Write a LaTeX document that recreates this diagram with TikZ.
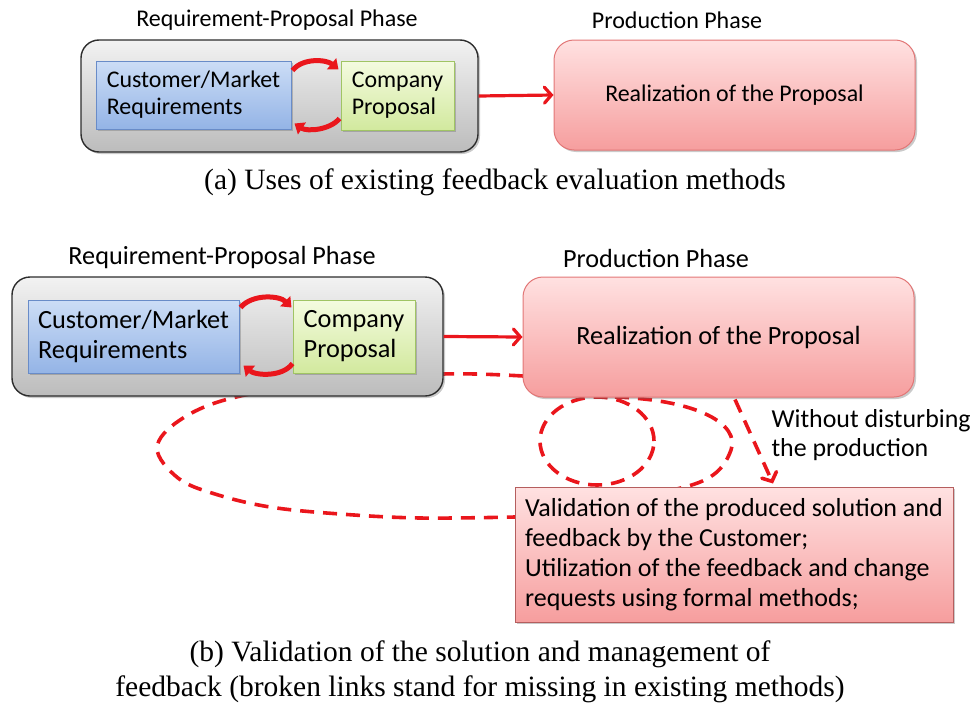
\documentclass[tikz,border=0pt]{standalone}
\usepackage{fontspec}
\setmainfont{Liberation Serif}
\newfontfamily\calfont{Carlito}
\newfontfamily\capfont{Liberation Serif}
\usetikzlibrary{arrows.meta,shadows,calc}
\definecolor{redA}{RGB}{234,22,28}
\definecolor{greyTop}{RGB}{242,242,242}
\definecolor{greyBot}{RGB}{188,188,188}
\definecolor{greyLine}{RGB}{45,45,45}
\definecolor{blueTop}{RGB}{204,221,246}
\definecolor{blueBot}{RGB}{148,180,230}
\definecolor{blueLine}{RGB}{105,140,200}
\definecolor{greenTop}{RGB}{244,251,224}
\definecolor{greenBot}{RGB}{210,233,158}
\definecolor{greenLine}{RGB}{160,196,100}
\definecolor{pinkTop}{RGB}{255,225,225}
\definecolor{pinkBot}{RGB}{246,158,158}
\definecolor{pinkLine}{RGB}{226,118,118}
\tikzset{
  shad/.style={drop shadow={shadow xshift=2pt,shadow yshift=-2pt,opacity=0.35,fill=black!60}},
  phasebox/.style={rounded corners=18pt, draw=greyLine, line width=1.4pt, top color=greyTop, bottom color=greyBot, shad},
  bluebox/.style={draw=blueLine, line width=1pt, top color=blueTop, bottom color=blueBot, shad, align=left, inner sep=0pt},
  greenbox/.style={draw=greenLine, line width=1pt, top color=greenTop, bottom color=greenBot, shad, align=left, inner sep=0pt},
  prodbox/.style={rounded corners=20pt, draw=pinkLine, line width=1pt, top color=pinkTop, bottom color=pinkBot, shad},
  valbox/.style={draw=pinkLine!80!black, line width=1pt, top color=pinkTop, bottom color=pinkBot, shad},
  flowarrow/.style={draw=redA, line width=3.2pt, -{Straight Barb[length=7pt,width=16pt,line cap=round]}},
  cycarrow/.style={draw=redA, line width=5pt, -{Triangle[length=9pt,width=14pt]}},
  fbline/.style={draw=redA, line width=3.6pt, dash pattern=on 14pt off 9pt},
  titleA/.style={font=\calfont\fontsize{24}{28}\selectfont},
  titleB/.style={font=\calfont\fontsize{26.2}{30}\selectfont},
  txtA/.style={font=\calfont\fontsize{23.9}{27}\selectfont},
  txtB/.style={font=\calfont\fontsize{26.3}{30}\selectfont},
  captxt/.style={font=\capfont\fontsize{29.5}{35}\selectfont, align=center},
}
\begin{document}
\begin{tikzpicture}[x=1pt,y=-1pt]
\useasboundingbox (0,0) rectangle (971,712);
% ---------------- (a)
\node[titleA] (tA1) at (277,20) {Requirement-Proposal Phase};
\node[titleA] (tA2) at (677,20) {Production Phase};
\node[phasebox, minimum width=397pt, minimum height=112pt] (greyA) at (279.5,96) {};
\node[bluebox, txtA, minimum width=195pt, minimum height=68pt] (blueA) at (193.5,95) {Customer/Market\\Requirements};
\node[greenbox, txtA, minimum width=113pt, minimum height=69pt] (greenA) at (397.5,95.5) {Company\\Proposal};
\node[prodbox, txtA, minimum width=361pt, minimum height=110pt] (pinkA) at (734.5,95) {Realization of the Proposal};
\draw[flowarrow] (greyA.east) -- (pinkA.west);
\draw[cycarrow] ($(blueA.north east)+(1,10)$) .. controls +(10,-13) and +(-12,-10) .. ($(greenA.north west)+(-2,9)$);
\draw[cycarrow] ($(greenA.south west)+(-1,-12)$) .. controls +(-10,12) and +(12,8) .. ($(blueA.south east)+(3,-6)$);
\node[captxt] (capA) at (495,182) {(a) Uses of existing feedback evaluation methods};
% ---------------- (b)
\node[titleB] (tB1) at (222,258) {Requirement-Proposal Phase};
\node[titleB] (tB2) at (656,258) {Production Phase};
% feedback paths (behind boxes)
\draw[fbline] plot[smooth, tension=0.6] coordinates {(523,376) (443,374) (330,382) (232,398) (180,420) (157,448) (178,478) (215,494) (270,507) (340,514) (420,518) (515,517)};
\draw[fbline] (597,441) ellipse (57pt and 44pt);
\draw[fbline] (615,397) .. controls (700,400) and (740,425) .. (731,450) .. controls (722,475) and (705,483) .. (672,490);
\node[phasebox, minimum width=431pt, minimum height=119pt] (greyB) at (227.5,336.5) {};
\node[bluebox, txtB, minimum width=211pt, minimum height=73pt] (blueB) at (133.5,336.5) {Customer/Market\\Requirements};
\node[greenbox, txtB, minimum width=122pt, minimum height=73pt] (greenB) at (354,336.5) {Company\\Proposal};
\node[prodbox, txtB, minimum width=391pt, minimum height=120pt] (pinkB) at (718.5,337) {Realization of the Proposal};
\node[valbox, minimum width=438pt, minimum height=135pt, inner sep=0pt, align=left, font=\calfont\fontsize{26}{30}\selectfont] (valB) at (734,554.5) {Validation of the produced solution and\\feedback by the Customer;\\Utilization of the feedback and change\\requests using formal methods;};
\draw[flowarrow] (greyB.east) -- (pinkB.west);
\draw[cycarrow] ($(blueB.north east)+(1,8)$) .. controls +(12,-14) and +(-12,-12) .. ($(greenB.north west)+(-1,8)$);
\draw[cycarrow] ($(greenB.south west)+(0,-10)$) .. controls +(-10,14) and +(12,10) .. ($(blueB.south east)+(4,-8)$);
\draw[fbline, -{Straight Barb[length=7pt,width=16pt,line cap=round]}] ($(pinkB.south)+(16.5,2)$) -- ($(valB.north)+(39,-3)$);
\node[font=\calfont\fontsize{25.9}{29}\selectfont, align=left, anchor=west] (wd) at (768,435) {Without disturbing\\the production};
\node[captxt] (capB) at (480,672) {(b) Validation of the solution and management of\\feedback (broken links stand for missing in existing methods)};
\end{tikzpicture}
\end{document}
